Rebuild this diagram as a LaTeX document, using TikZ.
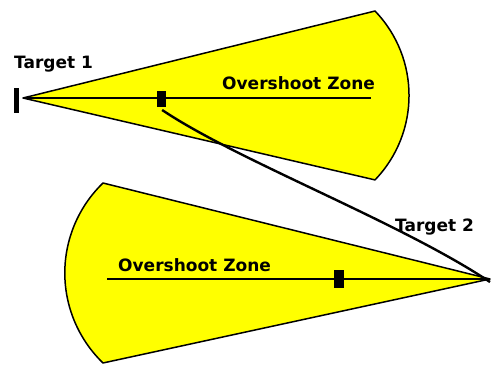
\documentclass[tikz,border=0pt]{standalone}
\usepackage{fontspec}
\setmainfont{DejaVu Sans}
\usetikzlibrary{positioning}
\definecolor{zoneyellow}{RGB}{255,255,0}
\tikzset{
    zone/.style={
           fill=zoneyellow,
           draw=black,
           line width=1.5pt,
           line join=round,
           },
    axisline/.style={
           draw=black,
           line width=1.1pt,
           },
    marker/.style={
           rectangle,
           fill=black,
           inner sep=0pt,
           minimum width=9pt,
           minimum height=16pt,
           },
    label/.style={
           font=\bfseries\fontsize{17}{20}\selectfont,
           inner sep=0pt,
           anchor=base west,
           },
}

\begin{document}
\begin{tikzpicture}[x=1pt,y=-1pt]
 \useasboundingbox (0,0) rectangle (496,365);

 % zone behind target 1
 \coordinate (APEXA) at (23,98);
 \path[zone] (APEXA) -- (375,11)
   arc[start angle=-43.9, end angle=43.9, radius=121.8] -- cycle;
 \draw[axisline] (APEXA) -- (371,98);

 % zone behind target 2
 \coordinate (APEXB) at (490,279);
 \path[zone] (APEXB) -- (103,183)
   arc[start angle=226, end angle=134, radius=125.1] -- cycle;
 \draw[axisline] (107,279) -- (APEXB);

 \node[marker, minimum width=5pt, minimum height=25pt] (TARGA) at (16,100) {};
 \node[marker] (MARKA) at (161,99) {};
 \node[marker, minimum width=10pt, minimum height=18pt] (MARKB) at (339,279) {};

 \node[label] (LBLA) at (14,68) {Target 1};
 \node[label] (LBLB) at (395,231) {Target 2};
 \node[label] (ZONEA) at (222,89) {Overshoot Zone};
 \node[label] (ZONEB) at (118,271) {Overshoot Zone};

 \draw[line width=2.4pt, shorten <=5pt]
   ([xshift=-3pt]MARKA.south) .. controls (238,161) and (400,222) .. ([yshift=-3pt]APEXB);
\end{tikzpicture}
\end{document}
